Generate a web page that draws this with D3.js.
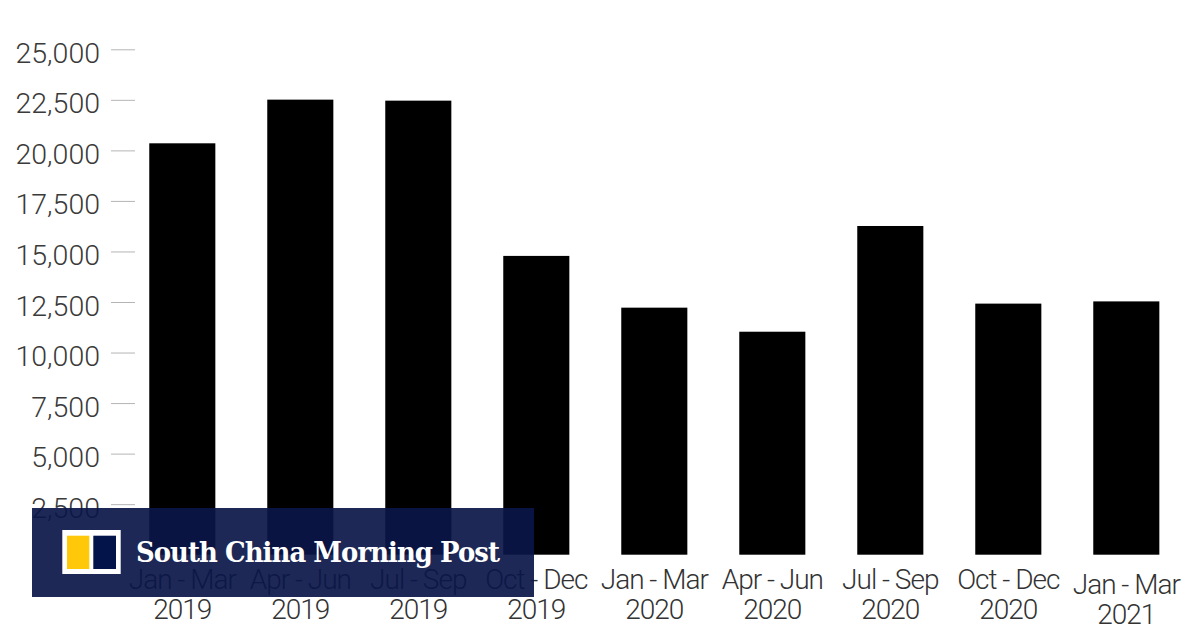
<!DOCTYPE html>
<html>
<head>
<meta charset="utf-8">
<script src="https://cdn.jsdelivr.net/npm/d3@7"></script>
<style>
  html, body { margin: 0; padding: 0; background: #fff; }
  svg { display: block; }
</style>
</head>
<body>
<svg id="chart" width="1200" height="630"></svg>
<script>
const periods = ["Jan - Mar", "Apr - Jun", "Jul - Sep", "Oct - Dec", "Jan - Mar", "Apr - Jun", "Jul - Sep", "Oct - Dec", "Jan - Mar"];
const years = ["2019", "2019", "2019", "2019", "2020", "2020", "2020", "2020", "2021"];
const values = [20350, 22510, 22460, 14780, 12220, 11030, 16260, 12420, 12530];
const yTicks = [2500, 5000, 7500, 10000, 12500, 15000, 17500, 20000, 22500, 25000];
const brandName = "South China Morning Post";

const svg = d3.select("#chart");
const idx = d3.range(values.length);

const x = d3.scaleBand().domain(idx).range([123.3, 1185.3]).paddingInner(0.44).paddingOuter(0.22);
const y = d3.scaleLinear().domain([0, 25000]).range([554.7, 49.3]);

// y axis
const yAxis = d3.axisLeft(y).tickValues(yTicks).tickFormat(d3.format(",")).tickSize(0).tickPadding(0);
const yG = svg.append("g").attr("transform", "translate(100,0)").call(yAxis);
yG.select(".domain").remove();
yG.selectAll(".tick text")
  .attr("x", 0).attr("dy", null).attr("y", 13)
  .attr("text-anchor", "end")
  .style("font-family", "Roboto, sans-serif").style("font-weight", 300)
  .style("font-size", "28.5px").attr("fill", "#3a3a3a");
yG.selectAll(".tick").append("line")
  .attr("x1", 11).attr("x2", 35).attr("y1", 0).attr("y2", 0)
  .attr("stroke", "#b5b5b5").attr("stroke-width", 1);

// bars
svg.append("g").selectAll("rect").data(values).join("rect")
  .attr("x", (d, i) => x(i))
  .attr("width", x.bandwidth())
  .attr("y", d => y(d))
  .attr("height", d => y(0) - y(d))
  .attr("fill", "#000");

// x axis labels
const xAxis = d3.axisBottom(x).tickSize(0).tickFormat(() => "");
const xG = svg.append("g").attr("transform", `translate(0,${y(0)})`).call(xAxis);
xG.select(".domain").remove();
xG.selectAll(".tick text").remove();
xG.selectAll(".tick").each(function(i) {
  const off = i === values.length - 1 ? 5 : 0;
  const t = d3.select(this).append("text")
    .attr("text-anchor", "middle")
    .style("font-family", "Roboto, sans-serif").style("font-weight", 300)
    .style("font-size", "28px").style("letter-spacing", "-1px")
    .attr("fill", "#333");
  t.append("tspan").attr("x", 0).attr("y", 34.6 + off).text(periods[i]);
  t.append("tspan").attr("x", 0).attr("y", 64.6 + off).text(years[i]);
});

// brand overlay
const logo = svg.append("g");
logo.append("rect").attr("x", 32).attr("y", 508).attr("width", 502).attr("height", 89)
  .attr("fill", "rgb(10,22,72)").attr("fill-opacity", 0.92);
logo.append("rect").attr("x", 62.3).attr("y", 530).attr("width", 58.4).attr("height", 44).attr("fill", "#fff");
logo.append("rect").attr("x", 67).attr("y", 535.7).attr("width", 22.3).attr("height", 33.3).attr("fill", "#ffc808");
logo.append("rect").attr("x", 93.3).attr("y", 535.7).attr("width", 22.7).attr("height", 33.3).attr("fill", "#03144a");
logo.append("text").attr("x", 136).attr("y", 561.7)
  .attr("textLength", 363).attr("lengthAdjust", "spacingAndGlyphs")
  .style("font-family", "'DejaVu Serif', serif").style("font-weight", 700)
  .style("font-size", "27.5px").style("letter-spacing", "-1px")
  .attr("fill", "#fff").text(brandName);
</script>
</body>
</html>
